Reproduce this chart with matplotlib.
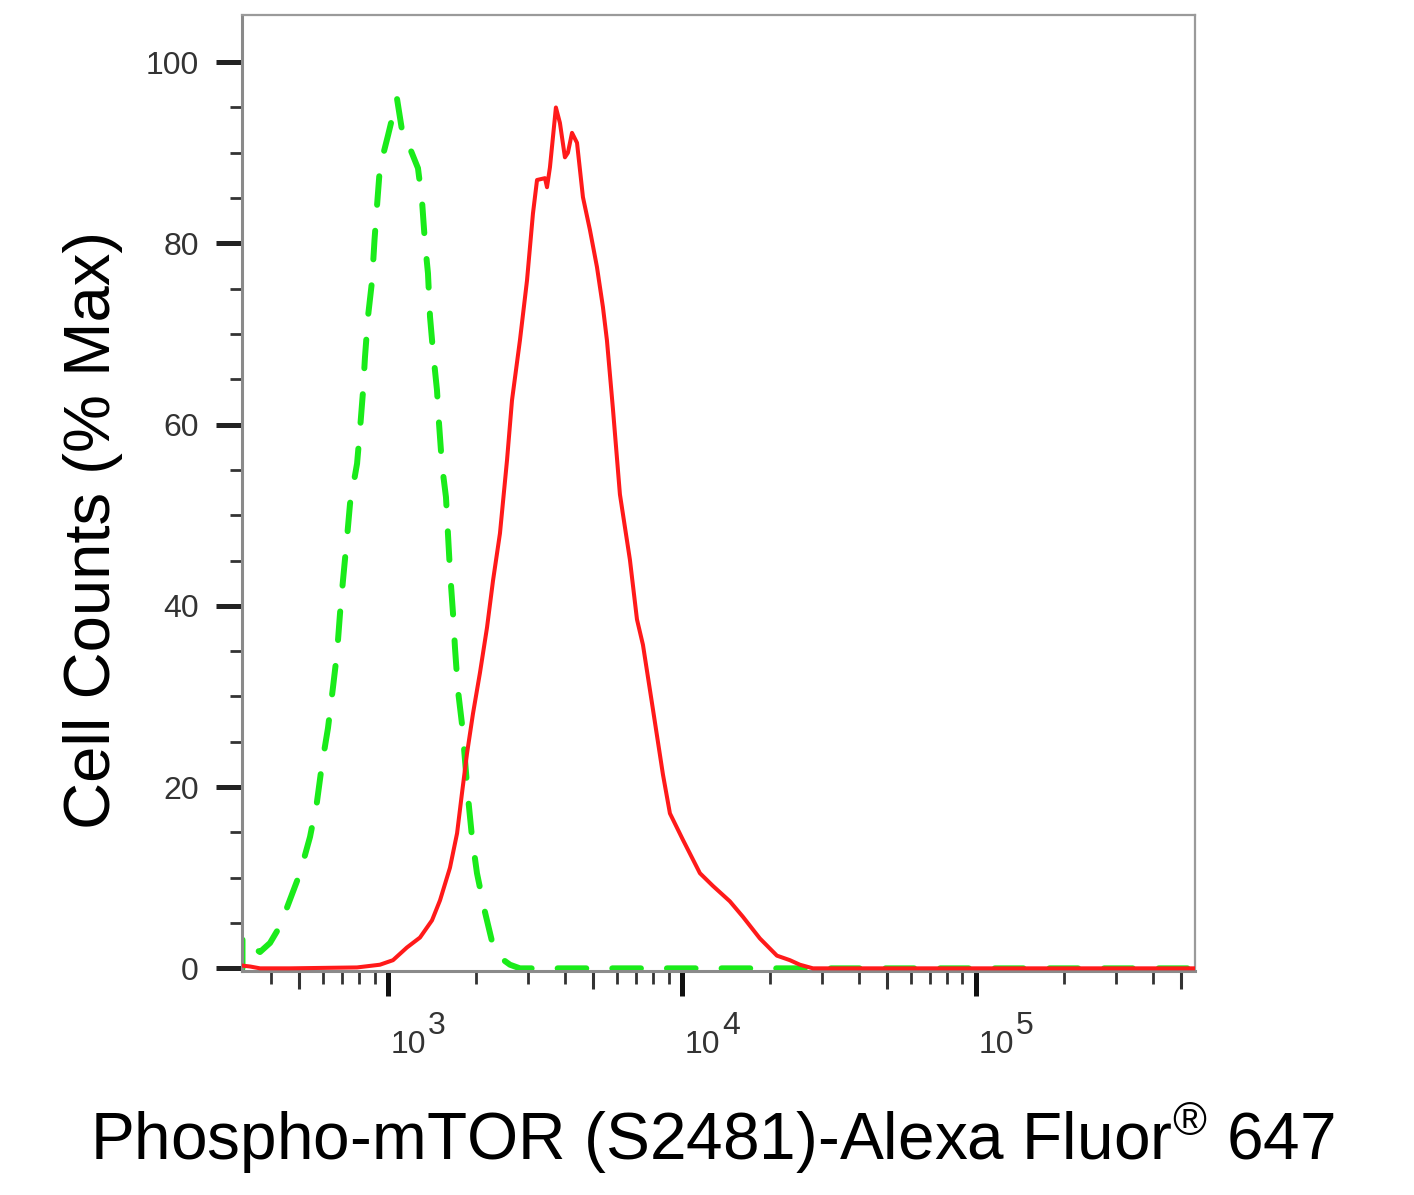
import numpy as np
import matplotlib.pyplot as plt
from matplotlib.ticker import FixedLocator, NullFormatter

plt.rcParams['font.family'] = ['Liberation Sans', 'DejaVu Sans']
plt.rcParams['mathtext.fontset'] = 'custom'
plt.rcParams['mathtext.rm'] = 'Liberation Sans'
plt.rcParams['mathtext.it'] = 'Liberation Sans:italic'
plt.rcParams['mathtext.bf'] = 'Liberation Sans:bold'

# isotype control (green dashed)
iso_x = [320, 320, 331, 347, 367, 397, 430, 457, 502, 543, 573, 597, 625, 650, 671,
         687, 703, 726, 743, 785, 803, 823, 835, 855, 883, 900, 917, 939, 1000, 1073,
         1116, 1188, 1265, 1305, 1336, 1368, 1390, 1422, 1468, 1491, 1527, 1575, 1625,
         1664, 1690, 1730, 1785, 1828, 1872, 1931, 2008, 2138, 2277, 2404, 2600, 2811,
         5000, 20000, 100000, 556000]
iso_y = [0, 3.5, 3.4, 2.3, 1.8, 2.8, 4.7, 7.0, 10.5, 14.5, 18.3, 22.6, 26.5, 31.0, 34.8,
         39.2, 42.8, 47.6, 51.3, 55.7, 59.4, 63.8, 67.4, 71.9, 75.9, 80.4, 84.0, 88.4, 91.9, 96.0,
         92.5, 90.5, 88.3, 84.8, 80.1, 76.7, 71.9, 68.2, 63.8, 60.2, 55.5, 52.0, 43.9,
         39.2, 35.4, 30.7, 27.0, 23.0, 18.9, 14.5, 10.5, 6.2, 2.5, 1.2, 0.4, 0,
         0, 0, 0, 0]

# phospho-mTOR stained (red)
pm_x = [320, 340, 367, 464, 785, 939, 1040, 1160, 1285, 1412, 1503, 1625, 1718, 1785,
        1857, 1946, 2055, 2172, 2277, 2404, 2541, 2642, 2811, 2971, 3113, 3214, 3420,
        3475, 3556, 3726, 3845, 3999, 4093, 4227, 4396, 4605, 4863, 5139, 5384, 5557,
        5822, 6152, 6652, 7031, 7368, 7966, 8616, 9101, 10070, 11510, 12740, 14550,
        16110, 18410, 21040, 23290, 25180, 27900, 100000, 556000]
pm_y = [0.3, 0.2, 0, 0, 0.1, 0.4, 0.9, 2.3, 3.4, 5.3, 7.5, 11.1, 14.9, 19.3,
        23.7, 28.1, 32.6, 37.6, 42.8, 48.0, 56.1, 62.7, 69.3, 75.9, 83.3, 87.0, 87.2,
        86.2, 88.4, 95.0, 93.3, 89.5, 90.0, 92.2, 91.1, 85.1, 81.5, 77.4, 73.0, 69.3,
        61.8, 52.3, 45.1, 38.5, 35.7, 28.6, 21.4, 17.1, 14.2, 10.5, 9.1, 7.4,
        5.7, 3.3, 1.4, 0.9, 0.4, 0, 0, 0]

y_major = [0, 20, 40, 60, 80, 100]
x_major = [1e3, 1e4, 1e5]
x_exp = ['3', '4', '5']
x_mid = [500, 5000, 50000, 500000]

fig = plt.figure(figsize=(14.14, 11.95), dpi=100)
ax = fig.add_axes([0.1711, 0.1874, 0.6740, 0.8000])

ax.plot(pm_x, pm_y, color='#ff1a1a', lw=2.9, zorder=3)
ax.plot(iso_x, iso_y, color='#1aeb1a', lw=4.3, dashes=(4.8, 4.35),
        dash_capstyle='round', zorder=2)

ax.set_xscale('log')
ax.set_xlim(318.6, 556000)
ax.set_ylim(-0.3, 105.2)

for side in ['left', 'bottom']:
    ax.spines[side].set_color('#8a8a8a')
    ax.spines[side].set_linewidth(2.2)
for side in ['top', 'right']:
    ax.spines[side].set_color('#9a9a9a')
    ax.spines[side].set_linewidth(1.6)

ax.set_yticks(y_major)
ax.yaxis.set_minor_locator(FixedLocator(np.arange(0, 105, 5)))
ax.tick_params(axis='y', which='major', direction='out', length=19, width=3.6,
               color='#222222', labelsize=23, labelcolor='#333333', pad=12)
ax.tick_params(axis='y', which='minor', direction='out', length=8.5, width=2.0,
               color='#333333')

ax.xaxis.set_major_locator(FixedLocator(x_major))
ax.xaxis.set_major_formatter(NullFormatter())
minor = [m * 10 ** e for e in range(2, 6) for m in range(2, 10) if m != 5]
ax.xaxis.set_minor_locator(FixedLocator(minor))
ax.xaxis.set_minor_formatter(NullFormatter())
ax.tick_params(axis='x', which='major', direction='out', length=18, width=3.6,
               color='#111111')
ax.tick_params(axis='x', which='minor', direction='out', length=9, width=2.0,
               color='#333333')

# medium ticks at 5 x 10^n
sec = ax.secondary_xaxis('bottom')
sec.set_xticks(x_mid)
sec.set_xticklabels([])
sec.tick_params(direction='out', length=13, width=2.2, color='#333333')
sec.spines['bottom'].set_visible(False)

# decade labels, drawn as base + large exponent like the cytometer software
for xv, e in zip(x_major, x_exp):
    ax.annotate('10', xy=(xv, 0), xycoords=('data', 'axes fraction'),
                xytext=(3, -82), textcoords='offset pixels',
                ha='left', va='baseline', fontsize=23, color='#333333')
    ax.annotate(e, xy=(xv, 0), xycoords=('data', 'axes fraction'),
                xytext=(40, -63), textcoords='offset pixels',
                ha='left', va='baseline', fontsize=23, color='#333333')

fig.text(93 / 1414, 1 - 530 / 1195, 'Cell Counts (% Max)', rotation=90,
         ha='center', va='center', fontsize=47, color='black')
fig.text(712 / 1414, 1 - 1160 / 1195,
         r'Phospho-mTOR (S2481)-Alexa Fluor$^{\circledR}$ 647',
         ha='center', va='baseline', fontsize=47.3, color='black')

fig.savefig('out.png', dpi=100)
